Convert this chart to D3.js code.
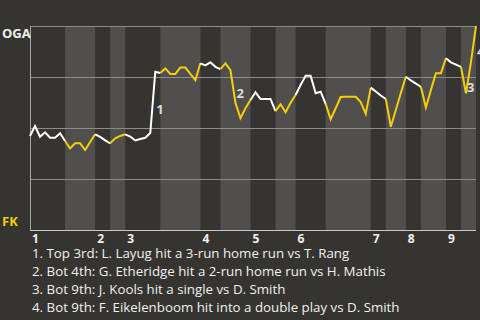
<!DOCTYPE html>
<html>
<head>
<meta charset="utf-8">
<script src="https://cdn.jsdelivr.net/npm/d3@7"></script>
<style>
  body { margin: 0; background: #363430; }
  svg { display: block; font-family: "Open Sans", Roboto, sans-serif; }
</style>
</head>
<body>
<script>
// OGA win probability after each play (percent)
var winProb = [
  46.1, 51.0, 45.7, 47.9, 45.2, 45.2, 47.4, 43.6, 40.0, 42.5,
  42.5, 39.2, 43.1, 46.9, 45.6, 43.9, 42.5, 44.9, 46.1, 46.9,
  45.8, 43.9, 44.6, 45.2, 47.5, 77.6, 77.0, 79.2, 76.5, 76.5,
  79.6, 79.6, 76.5, 73.5, 81.7, 80.7, 82.2, 80.0, 78.9, 81.7,
  78.4, 62.3, 54.8, 59.7, 63.7, 67.5, 64.2, 64.2, 64.2, 58.3,
  61.6, 57.7, 62.4, 66.2, 71.1, 75.6, 75.6, 67.0, 67.8, 61.8,
  54.3, 59.7, 65.2, 65.3, 65.3, 65.3, 62.7, 56.9, 69.8, 67.9,
  65.9, 64.2, 50.6, 58.8, 67.2, 75.1, 73.3, 71.8, 70.2, 60.0,
  68.6, 76.8, 76.8, 84.2, 82.2, 81.1, 80.0, 67.0, 82.4, 100
];

// play index where each half inning begins (top 1, bot 1, top 2, ...), last = end
var halfStarts = [0, 7, 13, 16, 19, 26, 34, 38, 44, 49, 53, 59, 68, 71, 75, 78, 83, 86, 89];

var innings = ['1', '2', '3', '4', '5', '6', '7', '8', '9'];

var gridTicks = [25, 50, 75, 100];

var keyPlays = [25, 41, 87, 89];

var notes = [
  '1. Top 3rd: L. Layug hit a 3-run home run vs T. Rang',
  '2. Bot 4th: G. Etheridge hit a 2-run home run vs H. Mathis',
  '3. Bot 9th: J. Kools hit a single vs D. Smith',
  '4. Bot 9th: F. Eikelenboom hit into a double play vs D. Smith'
];

var teams = ['OGA', 'FK'];

var W = 480, H = 320;
var plotL = 30, plotR = 476, plotT = 26, plotB = 230;

var svg = d3.select('body').append('svg').attr('width', W).attr('height', H);

svg.append('rect').attr('width', W).attr('height', H).attr('fill', '#363430');

var x = d3.scaleLinear().domain([0, winProb.length - 1]).range([plotL, plotR]);
var y = d3.scaleLinear().domain([0, 100]).range([plotB, plotT]);

// half innings: bottom halves shaded
var halves = [];
for (var i = 0; i < halfStarts.length - 1; i++) {
  halves.push({ start: halfStarts[i], end: halfStarts[i + 1], bottom: i % 2 === 1 });
}

svg.append('g').selectAll('rect')
  .data(halves.filter(function(d) { return d.bottom; }))
  .enter().append('rect')
  .attr('x', function(d) { return x(d.start); })
  .attr('y', y(100))
  .attr('width', function(d) { return x(d.end) - x(d.start); })
  .attr('height', y(0) - y(100))
  .attr('fill', '#504f4d');

// grid lines
svg.append('g').selectAll('line')
  .data(gridTicks)
  .enter().append('line')
  .attr('x1', plotL).attr('x2', plotR)
  .attr('y1', function(d) { return y(d) + 0.5; })
  .attr('y2', function(d) { return y(d) + 0.5; })
  .attr('stroke', '#8d8c8a')
  .attr('stroke-width', 1);

svg.append('line')
  .attr('x1', plotL).attr('x2', plotR)
  .attr('y1', y(0) + 0.5).attr('y2', y(0) + 0.5)
  .attr('stroke', '#c8c8c6');

svg.append('line')
  .attr('x1', plotL + 0.5).attr('x2', plotL + 0.5)
  .attr('y1', y(100)).attr('y2', y(0))
  .attr('stroke', '#a8a7a5');

// win probability line, coloured by half inning
var line = d3.line()
  .x(function(d) { return x(d); })
  .y(function(d) { return y(winProb[d]); });

svg.append('g').selectAll('path')
  .data(halves)
  .enter().append('path')
  .attr('d', function(d) { return line(d3.range(d.start, d.end + 1)); })
  .attr('fill', 'none')
  .attr('stroke', function(d) { return d.bottom ? '#f2cf0a' : '#ffffff'; })
  .attr('stroke-width', 2);

// key play markers
svg.append('g').selectAll('text')
  .data(keyPlays)
  .enter().append('text')
  .attr('x', function(d) { return x(d) + 1; })
  .attr('y', function(d) { return (y(winProb[d - 1]) + y(winProb[d])) / 2 + 12; })
  .attr('fill', '#dcdcdc')
  .attr('font-size', 13)
  .attr('font-weight', 'bold')
  .text(function(d, i) { return i + 1; });

// team labels
svg.append('text').attr('x', 2).attr('y', y(100) + 12)
  .attr('fill', '#f0f0f0').attr('font-size', 13).attr('font-weight', 'bold')
  .text(teams[0]);
svg.append('text').attr('x', 2).attr('y', y(0) - 4)
  .attr('fill', '#f2cf0a').attr('font-size', 13).attr('font-weight', 'bold')
  .text(teams[1]);

// inning labels
svg.append('g').selectAll('text')
  .data(innings)
  .enter().append('text')
  .attr('x', function(d, i) { return x(halfStarts[i * 2]) + 2; })
  .attr('y', y(0) + 13)
  .attr('fill', '#f0f0f0')
  .attr('font-size', 12)
  .attr('font-weight', 'bold')
  .text(function(d) { return d; });

// notes
svg.append('g').selectAll('text')
  .data(notes)
  .enter().append('text')
  .attr('x', 32)
  .attr('y', function(d, i) { return 258 + i * 18; })
  .attr('fill', '#f0f0f0')
  .attr('font-size', 13.3)
  .text(function(d) { return d; });
</script>
</body>
</html>
